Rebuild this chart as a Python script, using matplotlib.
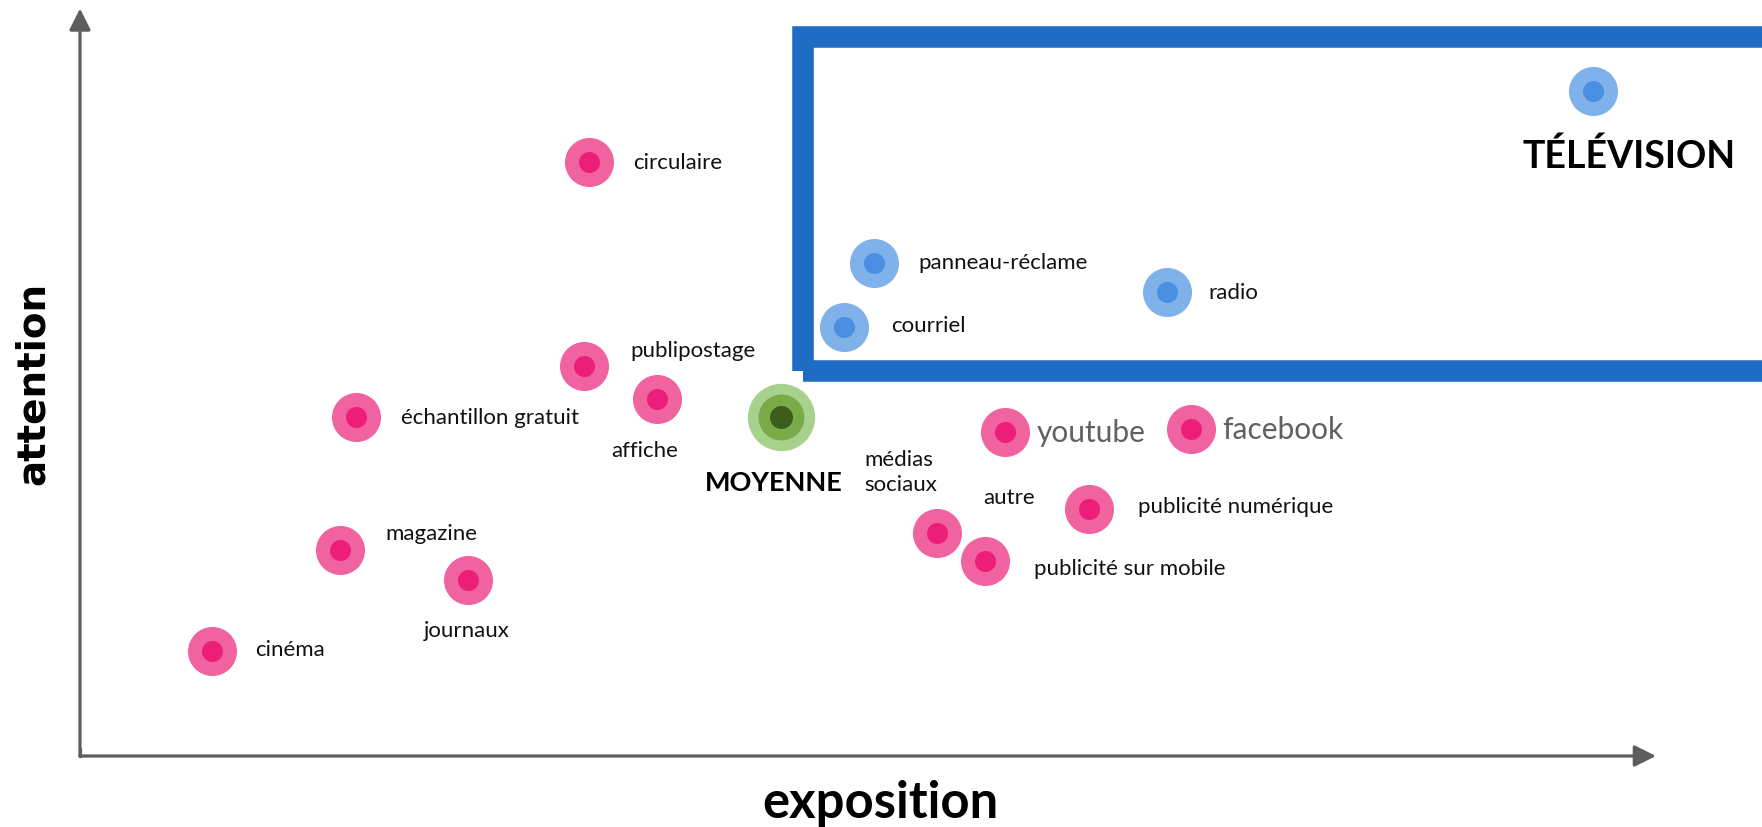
import matplotlib
matplotlib.use('Agg')
import matplotlib.pyplot as plt
from matplotlib.patches import Rectangle

plt.rcParams['font.family'] = ['Lato', 'DejaVu Sans']

# ---- données (exposition, attention) ----
media = ['cinéma', 'magazine', 'journaux', 'échantillon gratuit', 'publipostage',
         'affiche', 'circulaire', 'médias\nsociaux', 'publicité sur mobile',
         'publicité numérique', 'youtube', 'facebook']
expo = [8.4, 16.5, 24.6, 17.5, 32.0, 36.6, 32.3, 54.4, 57.4, 64.0, 58.7, 70.5]
atten = [14.1, 27.5, 23.5, 45.3, 52.2, 47.8, 79.5, 29.8, 26.1, 33.0, 43.3, 43.7]

top_media = ['courriel', 'panneau-réclame', 'radio', 'TÉLÉVISION']
top_expo = [48.5, 50.4, 69.0, 96.0]
top_atten = [57.4, 65.9, 62.1, 88.9]

moy_label = 'MOYENNE'
moy_expo = 44.5
moy_atten = 45.4

extra_label = 'autre'
extra_expo = 57.3
extra_atten = 34.6

# décalage des étiquettes (pixels)
lab_off = [(43, 2), (45, 17), (-44, -50), (45, 0), (46, 16), (-46, -51),
           (44, 0), (-73, 62), (49, -7), (49, 3), (32, 0), (31, 0)]
top_off = [(47, 2), (44, 1), (41, 0), (36, -64)]

PINK_O, PINK_I = '#F062A0', '#EC1E78'
BLUE_O, BLUE_I = '#7FB1EB', '#4A8FE2'
AX_COL = '#5E5E5E'
BOX_COL = '#1F6CC4'

fig = plt.figure(figsize=(17.62, 8.28), dpi=100)
ax = fig.add_axes([0, 0, 1, 1])
ax.set_xlim(-5.076, 106.73)
ax.set_ylim(-9.498, 101.27)
ax.axis('off')

# cadre bleu
ax.add_patch(Rectangle((45.88, 51.44), 107.1 - 45.88, 96.19 - 51.44,
                       fill=False, edgecolor=BOX_COL, linewidth=15.5,
                       joinstyle='miter', clip_on=False, zorder=1))

# axes fléchés
arrow = dict(arrowstyle='-|>,head_length=1.3,head_width=0.65',
             color=AX_COL, lw=2.3, shrinkA=0, shrinkB=0)
ax.annotate('', xy=(100, 0), xytext=(0, 0), arrowprops=arrow)
ax.annotate('', xy=(0, 100), xytext=(0, 0), arrowprops=arrow)
ax.plot([0, 0], [0, 1], color=AX_COL, lw=2.3, solid_capstyle='projecting')

# points
ax.scatter(expo, atten, s=1246, c=PINK_O, linewidths=0, zorder=3)
ax.scatter(expo, atten, s=229, c=PINK_I, linewidths=0, zorder=4)
ax.scatter(top_expo, top_atten, s=1246, c=BLUE_O, linewidths=0, zorder=3)
ax.scatter(top_expo, top_atten, s=229, c=BLUE_I, linewidths=0, zorder=4)
ax.scatter([moy_expo], [moy_atten], s=2350, c='#A9D18E', linewidths=0, zorder=3)
ax.scatter([moy_expo], [moy_atten], s=1097, c='#7AAB48', linewidths=0, zorder=4)
ax.scatter([moy_expo], [moy_atten], s=274, c='#3B5E1B', linewidths=0, zorder=5)

# étiquettes
for name, x, y, (dx, dy) in zip(media, expo, atten, lab_off):
    if name in ('youtube', 'facebook'):
        ax.annotate(name, (x, y), xytext=(dx, dy), textcoords='offset pixels',
                    ha='left', va='center', fontsize=21.5, fontweight='normal',
                    color='#606060')
    else:
        ax.annotate(name, (x, y), xytext=(dx, dy), textcoords='offset pixels',
                    ha='left', va='center', fontsize=16, color='#111111',
                    linespacing=1.3)

for name, x, y, (dx, dy) in zip(top_media, top_expo, top_atten, top_off):
    if name == 'TÉLÉVISION':
        ax.annotate(name, (x, y), xytext=(dx, dy), textcoords='offset pixels',
                    ha='center', va='center', fontsize=27, fontweight='bold',
                    color='#000000')
    else:
        ax.annotate(name, (x, y), xytext=(dx, dy), textcoords='offset pixels',
                    ha='left', va='center', fontsize=16, color='#111111')

ax.annotate(moy_label, (moy_expo, moy_atten), xytext=(-76, -65),
            textcoords='offset pixels', ha='left', va='center',
            fontsize=19.5, fontweight='bold', color='#000000')
ax.text(extra_expo, extra_atten, extra_label, ha='left', va='center',
        fontsize=16, color='#111111')

# titres des axes
fig.text(880 / 1762, 1 - 818 / 828, 'exposition', ha='center', va='baseline',
         fontsize=36.5, fontweight='bold', color='#000000')
fig.text(33 / 1762, 1 - 383 / 828, 'attention', ha='center', va='center',
         rotation=90, fontsize=28, fontweight='bold', color='#000000',
         family='DejaVu Sans')

fig.savefig('out.png', dpi=100)
